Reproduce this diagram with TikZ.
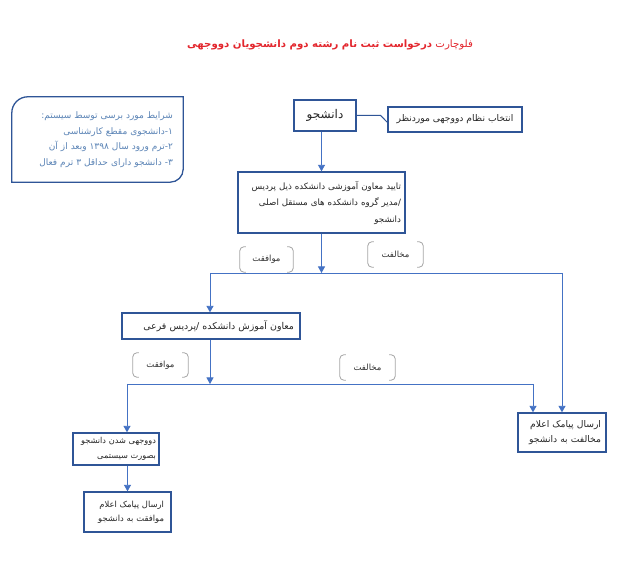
\documentclass[tikz,border=0pt]{standalone}
\usepackage{fontspec}
\usetikzlibrary{arrows.meta,calc}
\TeXXeTstate=1
\newfontfamily\fa[Script=Arabic]{DejaVu Sans}
\definecolor{bordc}{HTML}{2F5597}
\definecolor{linec}{HTML}{4472C4}
\definecolor{condtxt}{HTML}{5B84B6}
\definecolor{titlec}{HTML}{E3262D}
\definecolor{brkc}{HTML}{A6A6A6}
\begin{document}
\begin{tikzpicture}[x=1pt,y=1pt,
  box/.style={draw=bordc, line width=1.3pt, fill=white, inner ysep=2pt, align=right,
    font=\fa\fontsize{8.7}{15}\selectfont, text=black!85},
  conn/.style={draw=linec, line width=0.9pt},
  arr/.style={conn, -{Triangle[length=6.5pt,width=7pt]}},
  lbl/.style={font=\fa\fontsize{8.5}{10}\selectfont, text=black!80, inner sep=0pt},
  brk/.style={draw=brkc, line width=0.8pt, rounded corners=4pt}]
\useasboundingbox (0,0) rectangle (619,561);
\fill[white] (0,0) rectangle (619,561);

% title
\node[font=\fa\fontsize{10.2}{12}\selectfont, text=titlec] (title) at (330,516)
  {\beginR فلوچارت \textbf{درخواست ثبت نام رشته دوم دانشجویان دووجهی}\endR};

% condition box
\node[font=\fa\fontsize{9}{15.5}\selectfont, text=condtxt, text width=151pt, inner xsep=10pt,
  inner ysep=0pt, align=right, minimum width=171pt, minimum height=85pt] (cond) at (97.5,421.5)
  {\beginR شرایط مورد برسی توسط سیستم:\endR\\
   \beginR ۱-دانشجوی مقطع کارشناسی\endR\\
   \beginR ۲-ترم ورود سال \beginL۱۳۹۸\endL{} وبعد از آن\endR\\
   \beginR ۳- دانشجو دارای حداقل ۳ ترم فعال\endR};
\draw[draw=bordc, line width=1.3pt] (cond.south west) -- ([yshift=-16pt]cond.north west)
  arc[start angle=180,end angle=90,radius=16pt] -- (cond.north east)
  -- ([yshift=13pt]cond.south east) arc[start angle=0,end angle=-90,radius=13pt] -- cycle;

% boxes
\node[box, align=center, inner xsep=4pt, minimum width=62pt, minimum height=31pt,
  font=\fa\fontsize{12}{14}\selectfont] (dansh) at (325,445.5) {\beginR دانشجو\endR};
\node[box, align=center, line width=1.1pt, inner xsep=3pt, minimum width=134pt, minimum height=25pt,
  font=\fa\fontsize{9.2}{11}\selectfont] (callout) at (455,441.5) {\beginR انتخاب نظام دووجهی موردنظر\endR};
\node[box, text width=159pt, inner xsep=4pt, minimum height=61pt,
  font=\fa\fontsize{8.7}{16.5}\selectfont] (approve) at (321.5,358.5)
  {\beginR تایید معاون آموزشی دانشکده ذیل پردیس\endR\\
   \beginR /مدیر گروه دانشکده های مستقل اصلی\endR\\
   \beginR دانشجو\endR};
\node[box, text width=166pt, inner xsep=6pt, minimum height=26pt,
  font=\fa\fontsize{9.4}{12}\selectfont] (dep) at (211,235)
  {\beginR معاون آموزش دانشکده /پردیس فرعی\endR};
\node[box, text width=78pt, inner xsep=5pt, minimum height=39pt,
  font=\fa\fontsize{9.2}{15}\selectfont] (reject) at (562,128.5)
  {\beginR ارسال پیامک اعلام\endR\\ \beginR مخالفت به دانشجو\endR};
\node[box, text width=80pt, inner xsep=3pt, minimum height=32pt,
  font=\fa\fontsize{8.2}{15}\selectfont] (dual) at (116,112)
  {\beginR دووجهی شدن دانشجو\endR\\ \beginR بصورت سیستمی\endR};
\node[box, text width=73pt, inner xsep=7pt, minimum height=40pt,
  font=\fa\fontsize{8.4}{14}\selectfont] (sendok) at (127.5,49)
  {\beginR ارسال پیامک اعلام\endR\\ \beginR موافقت به دانشجو\endR};

% labels
\node[lbl, minimum width=53pt, minimum height=25pt] (ok1) at (266.5,301.5) {\beginR موافقت\endR};
\node[lbl, minimum width=55pt, minimum height=25pt] (no1) at (395.5,306.5) {\beginR مخالفت\endR};
\node[lbl, minimum width=55pt, minimum height=24pt] (ok2) at (160.5,196) {\beginR موافقت\endR};
\node[lbl, minimum width=55pt, minimum height=25pt] (no2) at (367.5,193.5) {\beginR مخالفت\endR};
\foreach \n in {ok1,no1,ok2,no2} {
  \draw[brk] ([xshift=6pt]\n.north west) -- (\n.north west) -- (\n.south west) -- ([xshift=6pt]\n.south west);
  \draw[brk] ([xshift=-6pt]\n.north east) -- (\n.north east) -- (\n.south east) -- ([xshift=-6pt]\n.south east);
}

% connectors
\draw[draw=bordc, line width=1pt] (dansh.east) -- ++(24,0) -- ([yshift=-3pt]callout.west);
\draw[arr] (dansh.south -| approve.north) -- (approve.north);

\coordinate (b1L) at (210,288);
\coordinate (b1R) at (562,288);
\draw[arr] (approve.south) -- (approve.south |- b1L);
\draw[conn] (b1L) -- (b1R);
\draw[arr] (b1L) -- (b1L |- dep.north);
\draw[arr] (b1R) -- (reject.north);

\coordinate (b2L) at (127,177);
\coordinate (b2R) at (533,177);
\draw[arr] (dep.south -| b1L) -- (b1L |- b2L);
\draw[conn] (b2L) -- (b2R);
\draw[arr] (b2L) -- (b2L |- dual.north);
\draw[arr] (b2R) -- (b2R |- reject.north);
\draw[arr] (sendok.north |- dual.south) -- (sendok.north);
\end{tikzpicture}
\end{document}
